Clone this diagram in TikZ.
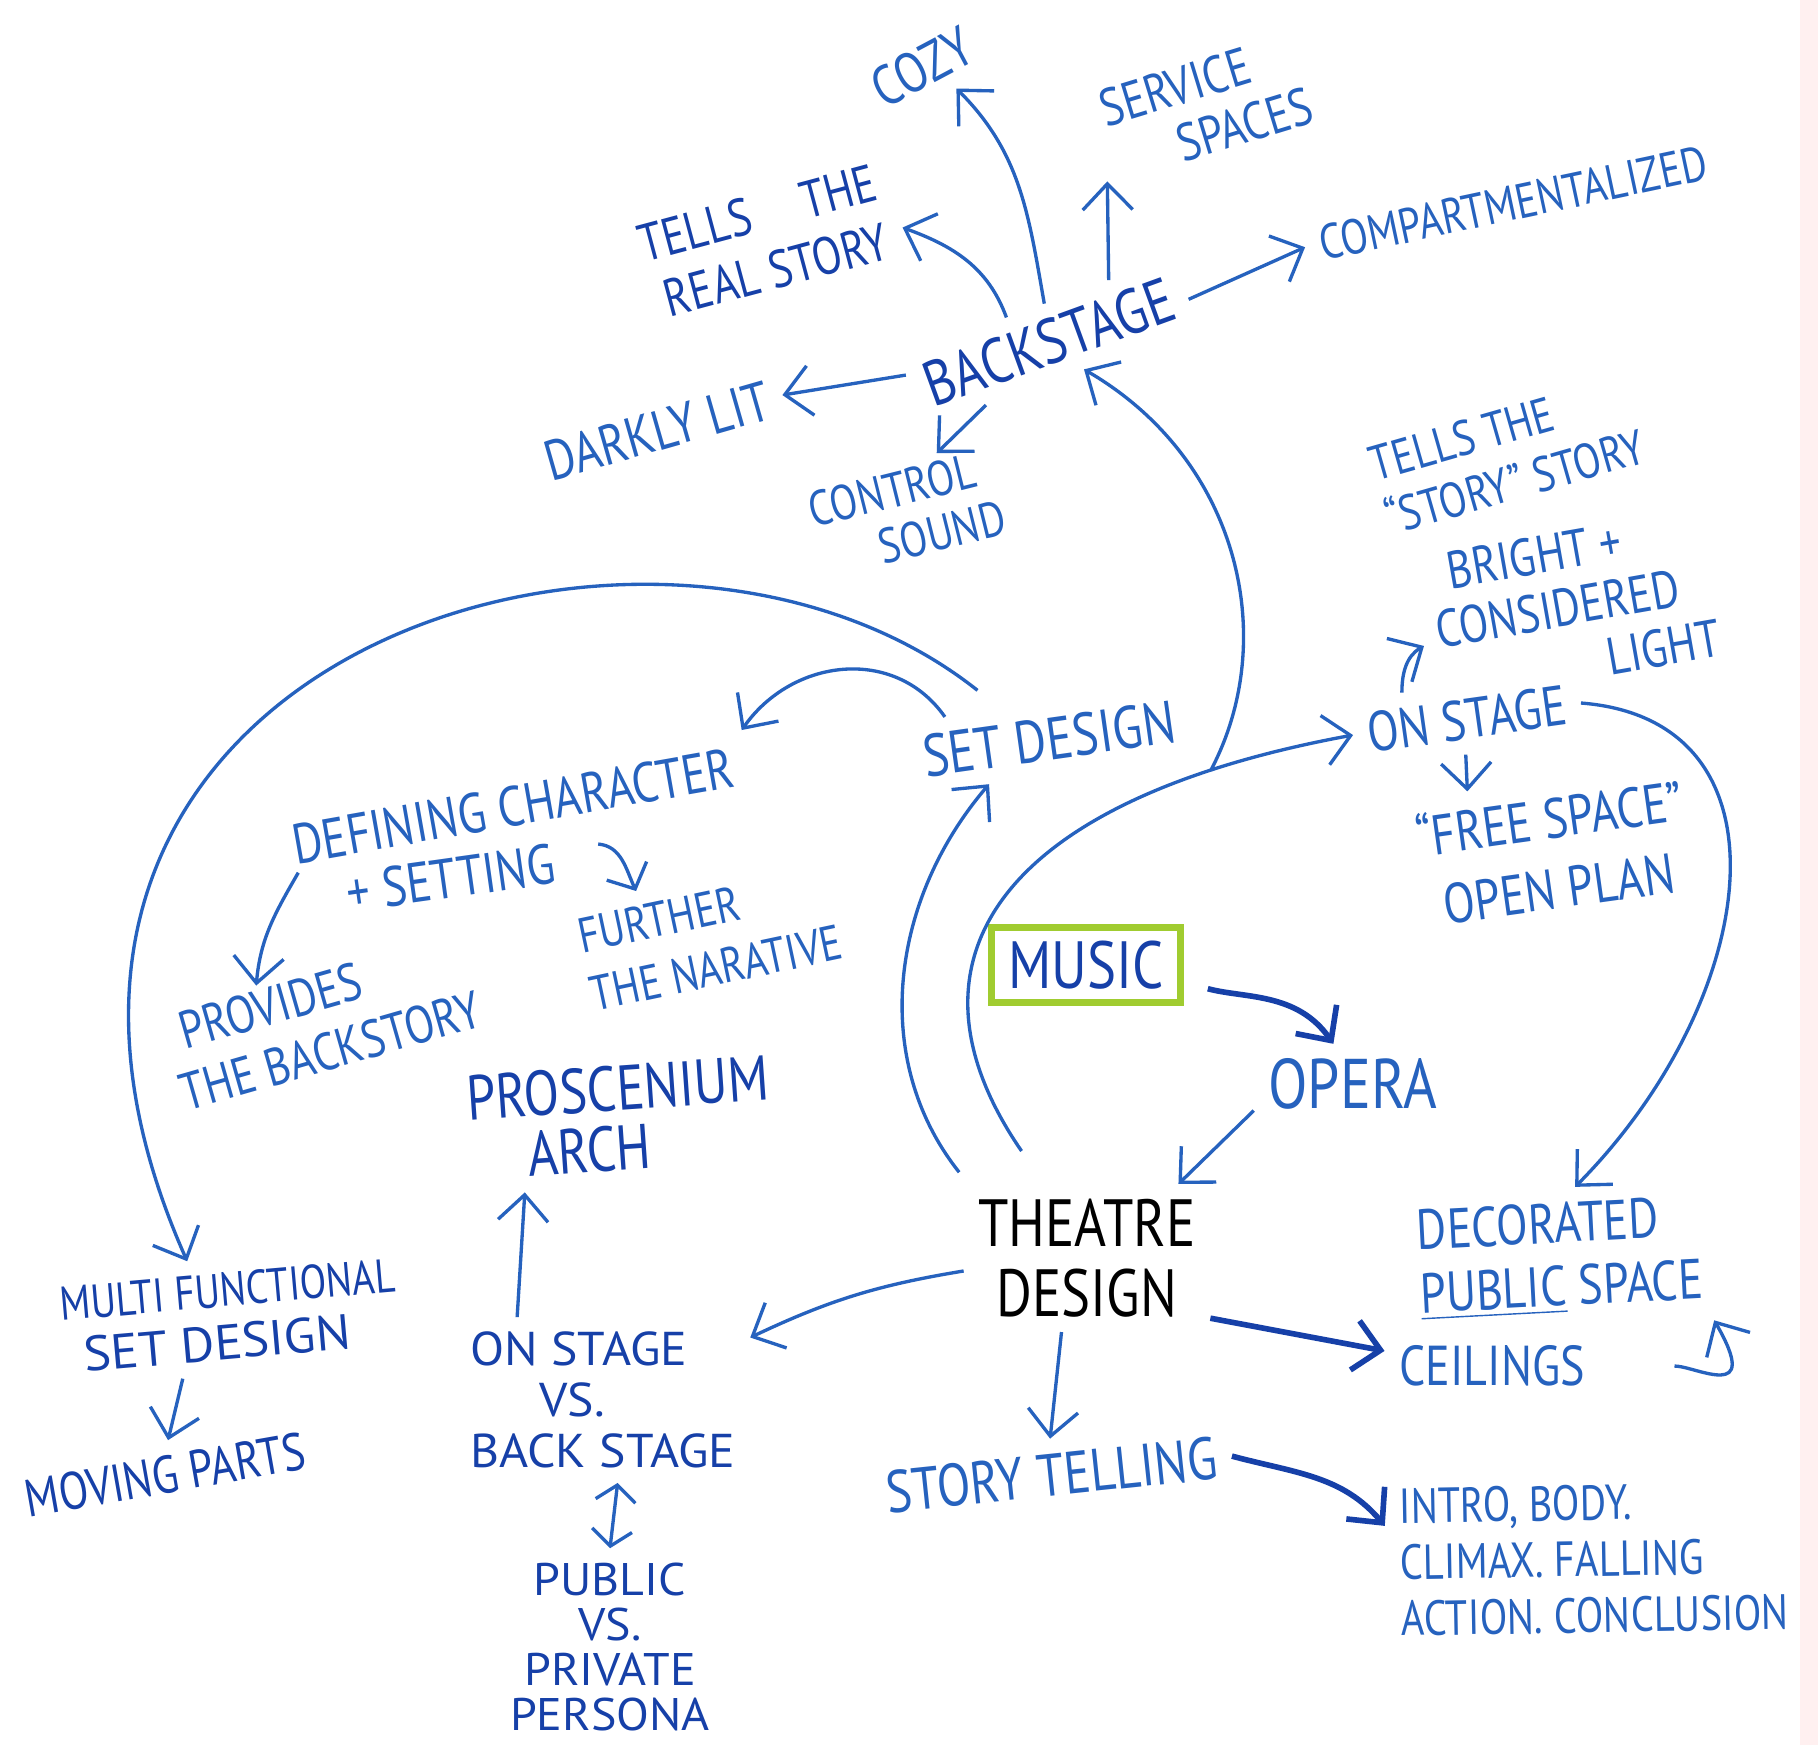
\documentclass[tikz,border=0pt]{standalone}
\usepackage{fontspec}
\newfontfamily\handfont[FakeStretch=0.82]{PT Sans}
\newfontfamily\handwide[FakeStretch=1.05]{PT Sans}
\usetikzlibrary{arrows.meta}
\definecolor{ink}{RGB}{38,98,190}
\definecolor{inkdark}{RGB}{22,64,168}
\definecolor{marker}{RGB}{160,204,48}
\tikzset{
	>={Straight Barb[length=2.6mm,width=5mm]},
	lbl/.style 2 args={text=ink, align=center, inner sep=4pt, font=\handfont\fontsize{#1}{#2}\selectfont},
	widelbl/.style 2 args={text=inkdark, align=center, inner sep=4pt, font=\handwide\fontsize{#1}{#2}\selectfont},
	link/.style={draw=ink, line width=0.95pt, ->},
	boldlink/.style={draw=inkdark, line width=1.6pt, ->}
}

\begin{document}
\begin{tikzpicture}
		%%%%% START %%%%%
		\useasboundingbox (0,0) rectangle (18.18,-17.45);
		\fill[white] (0,0) rectangle (18.18,-17.45);
		\fill[red!6] (18.0,0) rectangle (18.18,-17.45);
		
		\node[lbl={19}{20}, text=black] (td) at (10.87,-12.58) {THEATRE\\DESIGN};
		\node[draw=marker, line width=1.8pt, minimum width=1.89cm, minimum height=0.75cm, text=inkdark, font=\handfont\fontsize{19}{22}\selectfont] (music) at (10.86,-9.65) {MUSIC};
		\node[lbl={20}{22}] (opera) at (13.53,-10.84) {OPERA};
		
		\node[lbl={18}{20}, rotate=20, text=inkdark] (bs) at (10.49,-3.42) {BACKSTAGE};
		\node[lbl={16}{18}, rotate=28] (cozy) at (9.22,-0.67) {COZY};
		\node[lbl={15}{16}, rotate=17, align=left] (serv) at (12.06,-1.07) {SERVICE\\\hspace*{1.2em}SPACES};
		\node[lbl={15}{17}, rotate=15, align=left, text=inkdark] (real) at (7.65,-2.42) {TELLS\quad THE\\\hspace*{0.2em}REAL STORY};
		\node[lbl={14}{16}, rotate=12] (comp) at (15.13,-2.03) {COMPARTMENTALIZED};
		\node[lbl={16}{17}, rotate=16] (dark) at (6.57,-4.31) {DARKLY LIT};
		\node[lbl={14}{15}, rotate=14, align=left, inner sep=2pt] (ctrl) at (9.07,-5.14) {CONTROL\\\hspace*{1.2em}SOUND};
		
		\node[lbl={14}{16}, rotate=16, align=left] (tstory) at (15.07,-4.55) {TELLS THE\\“STORY” STORY};
		\node[lbl={15}{16}, rotate=10, align=left] (bright) at (15.73,-6.06) {\hspace*{0.4em}BRIGHT +\\CONSIDERED\\\hspace*{3.1em}LIGHT};
		\node[lbl={16}{18}, rotate=8] (onst) at (14.67,-7.19) {ON STAGE};
		\node[lbl={16}{20}, rotate=8] (free) at (15.54,-8.52) {“FREE SPACE”\\OPEN PLAN};
		
		\node[lbl={17}{19}, rotate=8] (setd) at (10.49,-7.39) {SET DESIGN};
		\node[lbl={16}{18}, rotate=10] (defn) at (5.13,-8.06) {DEFINING CHARACTER};
		\node[lbl={16}{18}, rotate=8, inner xsep=0.45cm] (sett) at (4.51,-8.78) {+ SETTING};
		\node[lbl={14}{17}, rotate=12, align=left] (furth) at (7.10,-9.39) {FURTHER\\THE NARATIVE};
		\node[lbl={15}{17}, rotate=16, align=left, inner sep=1pt] (prov) at (3.22,-10.22) {\hspace*{0.3em}PROVIDES\\THE BACKSTORY};
		\node[lbl={18}{17}, rotate=4, align=left, text=inkdark] (pros) at (6.20,-11.18) {PROSCENIUM\\\hspace*{0.9em}ARCH};
		
		\node[lbl={16}{18}, rotate=3, align=left] (deco) at (15.60,-12.58) {DECORATED\\\underline{PUBLIC} SPACE};
		\node[lbl={16}{18}] (ceil) at (14.92,-13.66) {CEILINGS};
		\node[lbl={13.5}{15}, rotate=5, align=left, text=inkdark] (multi) at (2.30,-13.16) {MULTI FUNCTIONAL\\\hspace*{0.4em}{\handwide\fontsize{14}{15}\selectfont SET DESIGN}};
		\node[lbl={15}{15}, rotate=10, text=inkdark] (moving) at (1.65,-14.75) {MOVING PARTS};
		\node[widelbl={13.5}{14.5}, align=left] (osbs) at (6.03,-14.00) {ON STAGE\\\hspace*{1.45em}VS.\\BACK STAGE};
		\node[widelbl={13}{12.8}] (pub) at (6.10,-16.47) {PUBLIC\\VS.\\PRIVATE\\PERSONA};
		\node[lbl={17}{19}, rotate=6] (story) at (10.52,-14.75) {STORY TELLING};
		\node[lbl={14}{16}, rotate=1, align=left] (intro) at (15.94,-15.59) {INTRO, BODY.\\CLIMAX. FALLING\\ACTION. CONCLUSION};
		
		\draw[link] (bs.77) to[out=100,in=-45] (cozy.-60);
		\draw[link] (bs.26) -- (serv.200);
		\draw[link] (bs.130) to[out=110,in=-20] (real.-9);
		\draw[link] (bs.-3) -- (comp.west);
		\draw[link] (bs.173) -- (dark.east);
		\draw[link] (bs.205) -- (ctrl.50);
		
		\draw[link, shorten <=0.4cm] (td.120) .. controls (8.9,-9.6) and (10.0,-8.0) .. coordinate[pos=0.85] (split) (onst.west);
		\draw[link] (split) .. controls (12.8,-6.4) and (12.4,-4.6) .. (bs.-58);
		\draw[link, shorten <=0.15cm] (td.148) .. controls (8.7,-10.6) and (8.9,-9.0) .. (setd.209);
		\draw[link] (setd.160) to[out=125,in=55,looseness=1.1] (defn.north east);
		\draw[link, shorten <=0.3cm] (setd.140) .. controls (6.5,-4.3) and (-0.8,-6.6) .. (multi.123);
		\draw[link] (sett.170) to[out=240,in=85] (prov.135);
		\draw[link, {Straight Barb[length=2mm,width=4.4mm]}-] (furth.135) to[out=115,in=-5] (sett.5);
		
		\draw[link] (onst.150) to[out=90,in=-150] (bright.185);
		\draw[link] (onst.-100) -- (free.137);
		\draw[link] (onst.east) .. controls (18.0,-7.2) and (17.6,-10.0) .. (deco.75);
		
		\draw[boldlink, shorten <=0.25cm] (music.-10) to[out=-15,in=125] (opera.116);
		\draw[link] (opera.195) -- (td.39);
		\draw[link] (td.186) to[bend right=8] (osbs.23);
		\draw[boldlink] (td.-26) -- (ceil.172);
		\draw[link] (td.-109) -- (story.87);
		\draw[link] (osbs.136) -- (pros.214);
		\draw[link] (multi.228) -- (moving.75);
		\draw[link, {Straight Barb[length=1.6mm,width=4mm]}-{Straight Barb[length=1.6mm,width=4mm]}] (osbs.-80) -- (pub.north);
		\draw[boldlink] (story.east) to[out=-15,in=130] (intro.170);
		\draw[link, shorten <=0.75cm] (ceil.east) to[out=0,in=-60,looseness=2] (deco.-25);
		
		%%%%% END %%%%%
\end{tikzpicture}
\end{document}
